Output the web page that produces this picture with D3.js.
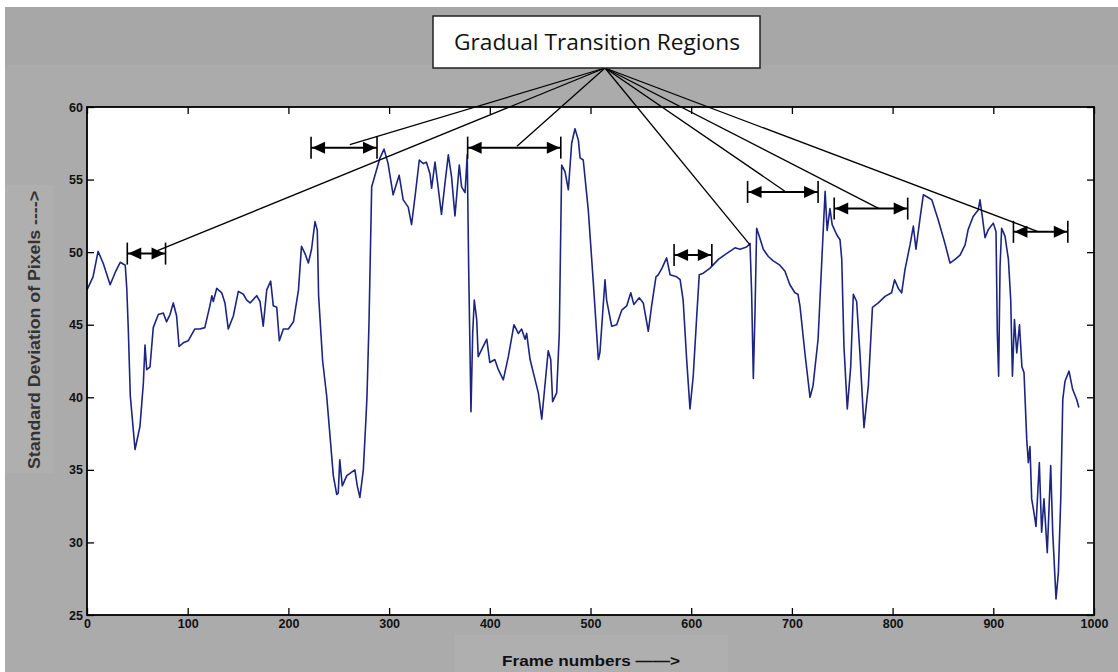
<!DOCTYPE html>
<html>
<head>
<meta charset="utf-8">
<script src="https://cdn.jsdelivr.net/npm/d3@7"></script>
<style>
  body { margin: 0; background: #fff; }
  svg { display: block; }
</style>
</head>
<body>
<svg id="chart"></svg>
<script>
// frame numbers and std-dev values
const frames = [0, 6, 11, 16, 23, 28, 33, 38, 39.5, 41, 43, 47.7, 52.6, 56, 57.6, 59.3, 62.6, 65.8, 70.8, 75.8,
  79, 82.4, 85.7, 89, 91.4, 95.6, 100.6, 107, 112, 117, 122, 124, 125.4, 128.8, 133.8, 137, 140.3, 145.3, 150.3, 155.3,
  158.6, 162, 168.5, 171.8, 175, 178.5, 182.4, 185, 188.4, 191, 195, 200, 205, 210, 213, 216.5, 219.8, 223, 226.4, 228.7,
  230, 234, 238, 244.6, 248, 249.5, 251, 253.5, 258, 266, 268.4, 271, 274.4, 277, 278, 280, 282.7, 286, 291, 295,
  299, 304, 307.5, 310, 314, 319, 322.3, 325.7, 330, 334, 337, 340.6, 342.2, 345.6, 349, 352, 355.5, 358.8, 362, 365.4,
  369.7, 372, 375.4, 377.6, 379, 381.3, 383, 384.6, 387, 388.5, 392, 397, 400, 405, 408.5, 413.4, 418.4, 424, 428.3, 431.6,
  435, 436.6, 440, 445, 448.2, 451.6, 455, 458, 460.5, 462.4, 466.4, 469, 471.4, 474.7, 478, 481.3, 484.6, 488, 489.6, 492.8,
  497.8, 502.8, 507.8, 509.4, 514.4, 516, 521, 526, 531, 536, 540, 543, 548.4, 552.4, 557.4, 560.7, 565, 567.4, 571, 575.6,
  579, 585.6, 589, 592, 595.5, 598.8, 602, 605.5, 608, 612, 618.7, 627, 635, 643.5, 648.5, 655, 658.4, 660, 661.7, 663.4,
  665, 667.6, 671.6, 676.6, 681.5, 688, 693, 698, 703, 706, 708, 713, 718, 721, 726, 730.5, 733, 735, 737.8, 740,
  744.5, 747.8, 749.5, 751.7, 755, 758.4, 761, 764.3, 767.6, 771.6, 775.9, 780, 785.8, 792.5, 799, 802, 805.7, 809, 812.3, 817.3,
  820.6, 823.2, 827, 830.5, 834.5, 839, 845.4, 852, 857, 862, 867, 872, 875, 880, 885, 886.8, 889, 891.8, 895, 900,
  902.7, 904, 905.3, 906.7, 908.3, 911.6, 915, 917.3, 919, 921, 923.3, 926, 928.4, 930.5, 933.2, 934.8, 936.4, 938.1, 940.4, 942.4,
  945.7, 948, 950.3, 953.6, 957, 959, 962.3, 964.6, 967, 969, 971.2, 975.2, 978.8, 982.8, 985];
const stdDev = [47.4, 48.3, 50.05, 49.25, 47.75, 48.6, 49.3, 49.1, 47.5, 44.7, 40.1, 36.4, 38.0, 41.0, 43.6, 41.9, 42.1, 44.8, 45.7, 45.8,
  45.2, 45.7, 46.5, 45.6, 43.5, 43.75, 43.9, 44.7, 44.7, 44.8, 46.3, 47.0, 46.6, 47.5, 47.2, 46.5, 44.7, 45.6, 47.3, 47.1,
  46.7, 46.5, 47.0, 46.6, 44.9, 47.4, 48.0, 46.3, 46.2, 43.9, 44.7, 44.7, 45.2, 47.4, 50.4, 49.9, 49.25, 50.2, 52.1, 51.5,
  47.0, 42.5, 40.1, 34.6, 33.3, 33.4, 35.7, 33.9, 34.6, 35.0, 33.9, 33.1, 35.0, 38.5, 40.0, 45.0, 54.5, 55.3, 56.5, 57.1,
  56.1, 53.95, 54.75, 55.3, 53.6, 53.1, 51.9, 53.8, 56.35, 56.1, 56.2, 55.4, 54.4, 56.2, 54.3, 52.6, 54.75, 56.7, 55.2, 52.5,
  56.0, 54.5, 54.1, 56.7, 49.0, 39.0, 44.4, 46.7, 45.35, 42.8, 43.3, 44.0, 42.4, 42.6, 41.9, 41.2, 42.8, 45.0, 44.4, 44.7,
  44.0, 44.4, 42.6, 41.2, 40.3, 38.5, 41.0, 43.2, 42.6, 39.7, 40.3, 44.4, 56.0, 55.55, 54.3, 57.5, 58.5, 57.7, 56.5, 56.35,
  52.9, 47.9, 42.6, 43.1, 48.1, 46.7, 44.9, 45.0, 46.0, 46.3, 47.2, 46.4, 46.85, 46.5, 44.55, 46.3, 48.3, 48.45, 48.9, 49.6,
  48.45, 48.3, 48.1, 46.7, 42.6, 39.2, 41.45, 45.6, 48.45, 48.55, 48.9, 49.5, 49.9, 50.3, 50.2, 50.35, 50.6, 47.2, 41.3, 46.0,
  51.65, 51.1, 50.2, 49.7, 49.4, 49.1, 48.7, 47.75, 47.2, 47.1, 46.3, 43.0, 40.0, 40.8, 44.0, 50.6, 54.2, 51.5, 53.0, 51.9,
  51.2, 50.85, 49.5, 43.5, 39.2, 42.1, 47.1, 46.6, 43.0, 37.9, 40.8, 46.2, 46.5, 46.95, 47.2, 48.1, 47.5, 47.2, 48.8, 50.5,
  51.8, 50.2, 52.2, 53.95, 53.8, 53.6, 52.2, 50.6, 49.25, 49.5, 49.8, 50.5, 51.55, 52.45, 52.9, 53.6, 52.5, 51.0, 51.55, 52.0,
  51.4, 44.4, 41.45, 49.0, 51.65, 51.1, 49.5, 46.7, 41.45, 45.35, 43.05, 45.0, 42.1, 41.7, 37.1, 35.5, 36.6, 33.0, 32.05, 31.1,
  35.5, 30.7, 33.0, 29.3, 35.3, 30.7, 26.1, 27.9, 33.0, 39.85, 41.1, 41.8, 40.55, 39.85, 39.3];

const xTicks = [0, 100, 200, 300, 400, 500, 600, 700, 800, 900, 1000];
const yTicks = [25, 30, 35, 40, 45, 50, 55, 60];

// double arrows marking the gradual transitions: [start frame, end frame, level]
const arrowStart = [40, 222.5, 378, 583, 656, 742, 920];
const arrowEnd = [78, 288, 470.5, 620.5, 726, 815, 974];
const arrowLevel = [49.9, 57.2, 57.2, 49.8, 54.15, 53.0, 51.4];
// where the leader lines from the title box end: [frame, level]
const leaderFrame = [70, 261, 427, 658.4, 693, 786.5, 945];
const leaderLevel = [50.1, 57.4, 57.3, 50.5, 54.2, 53.0, 51.4];

const W = 1118, H = 672;
const svg = d3.select("#chart").attr("width", W).attr("height", H);

// figure background
svg.append("rect").attr("x", 5).attr("y", 7).attr("width", W - 5).attr("height", H - 7).attr("fill", "#ababab");
svg.append("rect").attr("x", 5).attr("y", 7).attr("width", W - 5).attr("height", 58).attr("fill", "#a7a7a7");
svg.append("rect").attr("x", 5).attr("y", 185).attr("width", 48).attr("height", 288).attr("fill", "#afafaf");
svg.append("rect").attr("x", 455).attr("y", 635).attr("width", 273).attr("height", 37).attr("fill", "#afafaf");

const x = d3.scaleLinear().domain([0, 1000]).range([87, 1094]);
const y = d3.scaleLinear().domain([25, 60]).range([615, 107]);

svg.append("rect")
  .attr("x", x(0)).attr("y", y(60))
  .attr("width", x(1000) - x(0)).attr("height", y(25) - y(60))
  .attr("fill", "#fff");

const tickFont = (g) => g.selectAll("text")
  .attr("font-family", "'Liberation Sans', Arial, sans-serif")
  .attr("font-size", 12.5).attr("font-weight", "bold").attr("fill", "#111");

svg.append("g")
  .attr("transform", `translate(0,${y(25)})`)
  .call(d3.axisBottom(x).tickValues(xTicks).tickFormat(d3.format("d"))
    .tickSizeInner(-7).tickSizeOuter(0).tickPadding(4))
  .call(tickFont)
  .call(g => g.select(".domain").remove());
svg.append("g")
  .attr("transform", `translate(${x(0)},0)`)
  .call(d3.axisLeft(y).tickValues(yTicks).tickSizeInner(-7).tickSizeOuter(0).tickPadding(4))
  .call(tickFont)
  .call(g => g.select(".domain").remove());
svg.append("g")
  .attr("transform", `translate(0,${y(60)})`)
  .call(d3.axisTop(x).tickValues(xTicks).tickSizeInner(-7).tickSizeOuter(0).tickFormat(""))
  .call(g => g.select(".domain").remove());
svg.append("g")
  .attr("transform", `translate(${x(1000)},0)`)
  .call(d3.axisRight(y).tickValues(yTicks).tickSizeInner(-7).tickSizeOuter(0).tickFormat(""))
  .call(g => g.select(".domain").remove());
svg.selectAll(".tick line").attr("stroke", "#000").attr("stroke-width", 1.3);

// the series
const pts = frames.map((f, i) => [f, stdDev[i]]);
svg.append("path")
  .datum(pts)
  .attr("fill", "none")
  .attr("stroke", "#1c2580")
  .attr("stroke-width", 1.6)
  .attr("stroke-linejoin", "round")
  .attr("d", d3.line().x(d => x(d[0])).y(d => y(d[1])));

// plot frame
svg.append("rect")
  .attr("x", x(0)).attr("y", y(60))
  .attr("width", x(1000) - x(0)).attr("height", y(25) - y(60))
  .attr("fill", "none").attr("stroke", "#000").attr("stroke-width", 1.8);

// title box and leader lines
const hub = [605, 68];
leaderFrame.forEach((f, i) => {
  svg.append("line")
    .attr("x1", hub[0]).attr("y1", hub[1])
    .attr("x2", x(f)).attr("y2", y(leaderLevel[i]))
    .attr("stroke", "#000").attr("stroke-width", 1.3);
});

svg.append("rect")
  .attr("x", 433).attr("y", 16).attr("width", 327).attr("height", 52)
  .attr("fill", "#fff").attr("stroke", "#222").attr("stroke-width", 1.5);
svg.append("text")
  .attr("x", 597).attr("y", 50)
  .attr("text-anchor", "middle")
  .attr("font-family", "'Open Sans', 'Noto Sans', sans-serif")
  .attr("font-size", 22)
  .attr("textLength", 286).attr("lengthAdjust", "spacingAndGlyphs")
  .attr("fill", "#111")
  .text("Gradual Transition Regions");

// double-headed arrows with end bars
arrowStart.forEach((s, i) => {
  const a = x(s), b = x(arrowEnd[i]), yy = y(arrowLevel[i]);
  const g = svg.append("g").attr("stroke", "#000").attr("fill", "#000");
  g.append("line").attr("x1", a).attr("x2", b).attr("y1", yy).attr("y2", yy).attr("stroke-width", 2);
  g.append("line").attr("x1", a).attr("x2", a).attr("y1", yy - 11).attr("y2", yy + 11).attr("stroke-width", 1.6);
  g.append("line").attr("x1", b).attr("x2", b).attr("y1", yy - 11).attr("y2", yy + 11).attr("stroke-width", 1.6);
  g.append("path").attr("stroke", "none")
    .attr("d", `M${a + 1},${yy} L${a + 14},${yy - 6} L${a + 14},${yy + 6} Z`);
  g.append("path").attr("stroke", "none")
    .attr("d", `M${b - 1},${yy} L${b - 14},${yy - 6} L${b - 14},${yy + 6} Z`);
});

// axis titles
svg.append("text")
  .attr("transform", "translate(40,330) rotate(-90)")
  .attr("text-anchor", "middle")
  .attr("font-family", "'Liberation Sans', Arial, sans-serif")
  .attr("font-size", 16).attr("font-weight", "bold").attr("fill", "#333")
  .attr("textLength", 278).attr("lengthAdjust", "spacingAndGlyphs")
  .text("Standard Deviation of Pixels ---->");
svg.append("text")
  .attr("x", 502).attr("y", 666)
  .attr("font-family", "'Liberation Sans', Arial, sans-serif")
  .attr("font-size", 15).attr("font-weight", "bold").attr("fill", "#111")
  .attr("textLength", 178).attr("lengthAdjust", "spacingAndGlyphs")
  .text("Frame numbers ——>");
</script>
</body>
</html>
